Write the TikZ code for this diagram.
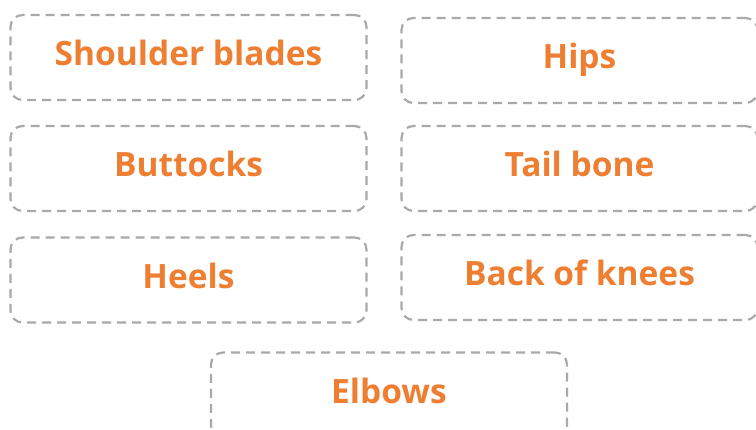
\documentclass[tikz,border=0pt]{standalone}
\usepackage{fontspec}
\usepackage{tikz}
\usepackage{xcolor}
\newfontfamily\partfont{Open Sans}
\definecolor{partorange}{RGB}{238,127,50}
\definecolor{dashgray}{RGB}{170,168,168}

\begin{document}
\begin{tikzpicture}[
    x=1pt, y=1pt,
    part/.style={rectangle, draw=dashgray, line width=2.2pt, dash pattern=on 9pt off 6pt,
        rounded corners=12pt, minimum width=356pt, minimum height=85pt, align=center,
        text height=25pt, text depth=8pt,
        text=partorange, font=\partfont\bfseries\fontsize{33.5}{40}\selectfont}
]
\useasboundingbox (0,0) rectangle (756,429);

% ============ Left column ============
\node[part] (shoulder) at (188.5, 371.5) {Shoulder blades};
\node[part] (buttocks) at (188.5, 260.5) {Buttocks};
\node[part] (heels) at (188.5, 149) {Heels};

% ============ Right column ============
\node[part] (hips) at (579.5, 368.5) {Hips};
\node[part] (tailbone) at (579.5, 260.5) {Tail bone};
\node[part] (knees) at (579.5, 151.5) {Back of knees};

% ============ Bottom ============
\node[part] (elbows) at (389, 34) {Elbows};

\end{tikzpicture}
\end{document}
